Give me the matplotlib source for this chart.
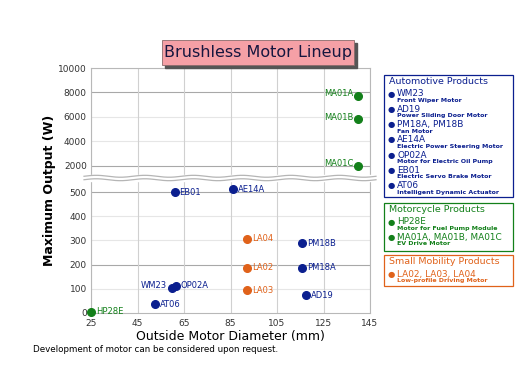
import numpy as np
import matplotlib.pyplot as plt
from matplotlib.patches import Rectangle

# donnees
names = ['HP28E', 'AT06', 'WM23', 'OP02A', 'EB01', 'AE14A',
         'LA04', 'LA02', 'LA03', 'PM18B', 'PM18A', 'AD19',
         'MA01A', 'MA01B', 'MA01C']
diam = [25, 52.5, 59.8, 61.6, 61, 86, 92, 92, 92, 115.7, 115.7, 117.5, 140, 140, 140]
power = [5, 37, 103, 112, 500, 512, 306, 186, 95, 289, 186, 74, 7750, 5800, 2000]
group = ['moto', 'auto', 'auto', 'auto', 'auto', 'auto',
         'mob', 'mob', 'mob', 'auto', 'auto', 'auto',
         'moto', 'moto', 'moto']
label_side = ['r', 'r', 'l', 'r', 'r', 'r', 'r', 'r', 'r', 'r', 'r', 'r', 'l', 'l', 'l']

xticks = [25, 45, 65, 85, 105, 125, 145]
yticks_low = [0, 100, 200, 300, 400, 500]
yticks_high = [2000, 4000, 6000, 8000, 10000]

colors = {'auto': '#0b1f8f', 'moto': '#13801a', 'mob': '#e0621a'}

legend_groups = [
    ('Automotive Products', 'auto', [
        ('WM23', 'Front Wiper Motor'),
        ('AD19', 'Power Sliding Door Motor'),
        ('PM18A, PM18B', 'Fan Motor'),
        ('AE14A', 'Electric Power Steering Motor'),
        ('OP02A', 'Motor for Electric Oil Pump'),
        ('EB01', 'Electric Servo Brake Motor'),
        ('AT06', 'Intelligent Dynamic Actuator')]),
    ('Motorcycle Products', 'moto', [
        ('HP28E', 'Motor for Fuel Pump Module'),
        ('MA01A, MA01B, MA01C', 'EV Drive Motor')]),
    ('Small Mobility Products', 'mob', [
        ('LA02, LA03, LA04', 'Low-profile Driving Motor')]),
]

W, H = 519, 384
fig = plt.figure(figsize=(W / 100, H / 100), dpi=100)
L, R = 91 / W, 370 / W
y_top, y_brk, y_bot = 1 - 68 / H, 1 - 178 / H, 1 - 313 / H
ax_hi = fig.add_axes([L, y_brk, R - L, y_top - y_brk])
ax_lo = fig.add_axes([L, y_bot, R - L, y_brk - y_bot])

ax_hi.set_ylim(1000, 10000)
ax_lo.set_ylim(0, 558)
for ax in (ax_hi, ax_lo):
    ax.set_xlim(25, 145)
    ax.set_xticks(xticks)
    for s in ax.spines.values():
        s.set_color('#b8b8b8')
        s.set_linewidth(0.8)
    ax.tick_params(length=0, labelsize=6.5, colors='#333333', pad=3)
    ax.grid(axis='x', color='#d0d0d0', lw=0.8)
    ax.set_axisbelow(True)
ax_hi.spines['bottom'].set_visible(False)
ax_lo.spines['top'].set_visible(False)
ax_hi.tick_params(labelbottom=False)
ax_lo.tick_params(axis='x', pad=4)
ax_hi.set_yticks(yticks_high)
ax_lo.set_yticks(yticks_low)

for v in yticks_high:
    c = '#a8a8a8' if v in (2000, 8000) else '#e6e6e6'
    ax_hi.axhline(v, color=c, lw=0.8, zorder=0)
for v in yticks_low[1:]:
    c = '#a8a8a8' if v in (200, 500) else '#e6e6e6'
    ax_lo.axhline(v, color=c, lw=0.8, zorder=0)

for n, x, y, g, side in zip(names, diam, power, group, label_side):
    ax = ax_hi if y > 1000 else ax_lo
    col = colors[g]
    ax.plot(x, y, 'o', ms=5.5, color=col, clip_on=False, zorder=5)
    if side == 'r':
        ax.annotate(n, (x, y), xytext=(3.5, 0), textcoords='offset points',
                    ha='left', va='center', fontsize=6, color=col)
    else:
        ax.annotate(n, (x, y), xytext=(-3.5, 1.5), textcoords='offset points',
                    ha='right', va='center', fontsize=6, color=col)

# cassure ondulee de l'axe
x0, x1 = 84 / W, 376 / W
fig.add_artist(Rectangle((x0, y_brk - 0.007), x1 - x0, 0.014,
                         transform=fig.transFigure, color='white', zorder=1))
t = np.linspace(0, 1, 400)
for off in (0.0045, -0.0045):
    wave = off + 0.0025 * np.sin(t * 2 * np.pi * 6)
    fig.add_artist(plt.Line2D(x0 + t * (x1 - x0), y_brk + wave, color='#b5b5b5',
                              lw=0.9, zorder=2))

ax_lo.set_xlabel('Outside Motor Diameter (mm)', fontsize=9, labelpad=2)
fig.text(50 / W, 1 - 190 / H, 'Maximum Output (W)', rotation=90, fontsize=9,
         fontweight='bold', ha='center', va='center')
fig.text(33 / W, 1 - 350 / H, 'Development of motor can be considered upon request.',
         fontsize=6.3, ha='left', va='center')

# titre
fig.add_artist(Rectangle((165 / W, 1 - 68 / H), 192 / W, 25 / H, transform=fig.transFigure,
                         color='#555555', zorder=2))
fig.add_artist(Rectangle((162 / W, 1 - 65 / H), 192 / W, 25 / H, transform=fig.transFigure,
                         facecolor='#f5a0a6', edgecolor='#8a6a6a', lw=0.6, zorder=3))
fig.text(258 / W, 1 - 52.5 / H, 'Brushless Motor Lineup', fontsize=11.5, color='#16163f',
         ha='center', va='center', zorder=4)

# legende
boxes = [(75, 197), (203, 251), (255, 286)]
for (title, g, items), (b0, b1) in zip(legend_groups, boxes):
    col = colors[g]
    fig.add_artist(Rectangle((384 / W, 1 - b1 / H), 129 / W, (b1 - b0) / H,
                             transform=fig.transFigure, facecolor='white',
                             edgecolor=col, lw=0.9))
    fig.text(389 / W, 1 - (b0 + 7) / H, title, fontsize=6.8, color=col, va='center')
    y = b0 + 19
    for head, sub in items:
        fig.text(388 / W, 1 - y / H, '\u25CF', fontsize=6, color=col, va='center')
        fig.text(397 / W, 1 - y / H, head, fontsize=6.4, color=col, va='center')
        fig.text(397 / W, 1 - (y + 6.5) / H, sub, fontsize=4.5, color=col, va='center',
                 fontweight='semibold')
        y += 15.3

fig.savefig('out.png', dpi=100)
